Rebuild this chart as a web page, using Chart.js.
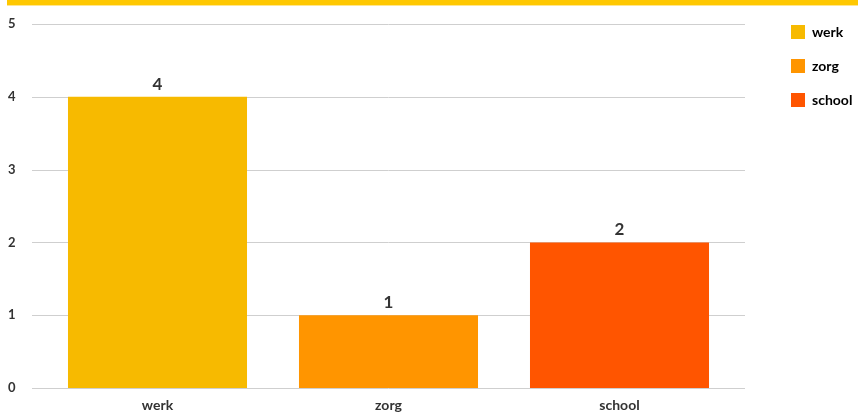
<!DOCTYPE html>
<html>
<head>
<meta charset="utf-8">
<script src="https://cdn.jsdelivr.net/npm/chart.js@4.4.1/dist/chart.umd.min.js"></script>
<style>
  html, body { margin: 0; padding: 0; background: #fff; }
  #wrap { position: relative; width: 858px; height: 412px; }
  #stripe { position: absolute; left: 7px; right: 0; top: 0; height: 5px; background: #ffc800; border-bottom: 1px solid #ffe690; }
</style>
</head>
<body>
<div id="wrap">
  <canvas id="chart" width="858" height="412"></canvas>
  <div id="stripe"></div>
</div>
<script>
// categories and counts
var categories = ["werk", "zorg", "school"];
var counts = [4, 1, 2];
var barColors = ["#f7ba00", "#ff9500", "#ff5500"];
var yTicks = [0, 1, 2, 3, 4, 5];

var fontFamily = "Lato, 'Open Sans', sans-serif";
var textColor = "#333";

// grid lines run a little wider than the bar area
var gridLines = {
  id: 'gridLines',
  beforeDatasetsDraw: function(chart) {
    var ctx = chart.ctx;
    var area = chart.chartArea;
    var y = chart.scales.y;
    ctx.save();
    ctx.strokeStyle = '#cfcfcf';
    ctx.lineWidth = 1;
    yTicks.forEach(function(t) {
      var py = Math.round(y.getPixelForValue(t)) + 0.5;
      ctx.beginPath();
      ctx.moveTo(area.left - 10, py);
      ctx.lineTo(area.right + 10, py);
      ctx.stroke();
    });
    ctx.restore();
  }
};

// value above each bar
var valueLabels = {
  id: 'valueLabels',
  afterDatasetsDraw: function(chart) {
    var ctx = chart.ctx;
    var meta = chart.getDatasetMeta(0);
    ctx.save();
    ctx.fillStyle = textColor;
    ctx.font = "bold 17px " + fontFamily;
    ctx.textAlign = 'center';
    ctx.textBaseline = 'bottom';
    meta.data.forEach(function(bar, i) {
      ctx.fillText(String(counts[i]), bar.x, bar.y - 4);
    });
    ctx.restore();
  }
};

// keep the legend over to the right edge, up near the top
var legendPlace = {
  id: 'legendPlace',
  beforeInit: function(chart) {
    var fit = chart.legend.fit;
    chart.legend.fit = function() {
      fit.bind(chart.legend)();
      this.width = 123;
    };
  },
  afterLayout: function(chart) {
    var lg = chart.legend;
    lg.left = 771;
    lg.right = 858;
    lg.bottom = lg.bottom - lg.top + 5;
    lg.top = 5;
  }
};

new Chart(document.getElementById('chart'), {
  type: 'bar',
  data: {
    labels: categories,
    datasets: [{
      data: counts,
      backgroundColor: barColors,
      borderWidth: 0,
      categoryPercentage: 1,
      barPercentage: 0.775
    }]
  },
  options: {
    responsive: false,
    animation: false,
    layout: { padding: { left: 8, top: 24, right: 0, bottom: 0 } },
    plugins: {
      tooltip: { enabled: false },
      legend: {
        position: 'right',
        align: 'start',
        labels: {
          boxWidth: 14,
          boxHeight: 14,
          padding: 20,
          color: textColor,
          font: { family: fontFamily, size: 14, weight: 'bold' },
          generateLabels: function(chart) {
            return categories.map(function(c, i) {
              return { text: c, fillStyle: barColors[i], strokeStyle: barColors[i], lineWidth: 0, index: i };
            });
          }
        }
      }
    },
    scales: {
      x: {
        afterFit: function(scale) { scale.height = 24; },
        grid: { display: false },
        border: { display: false },
        ticks: {
          color: textColor,
          padding: 1,
          font: { family: fontFamily, size: 14, weight: 'bold' }
        }
      },
      y: {
        min: 0,
        max: 5,
        afterFit: function(scale) { scale.width = 34; },
        grid: { display: false },
        border: { display: false },
        ticks: {
          stepSize: 1,
          crossAlign: 'far',
          color: textColor,
          font: { family: fontFamily, size: 13, weight: 'bold' }
        }
      }
    }
  },
  plugins: [gridLines, valueLabels, legendPlace]
});
</script>
</body>
</html>
